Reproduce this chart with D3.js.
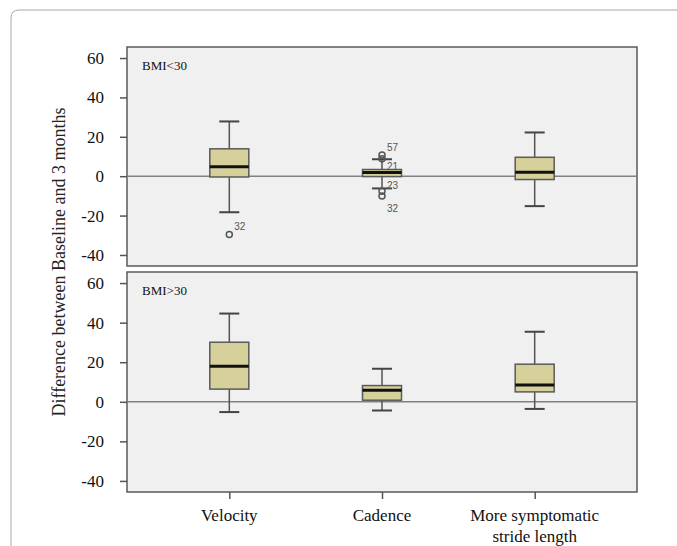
<!DOCTYPE html>
<html>
<head>
<meta charset="utf-8">
<script src="https://cdn.jsdelivr.net/npm/d3@7/dist/d3.min.js"></script>
<style>
    body { margin: 0; background: #fff; }
    svg { display: block; }
    .serif { font-family: "Liberation Serif", "Times New Roman", serif; }
</style>
</head>
<body>
<svg id="chart" width="677" height="546"></svg>
<script>
'use strict';
var categories = ['Velocity', 'Cadence', 'More symptomatic stride length'];
var panelNames = ['BMI<30', 'BMI>30'];
var yTicks = [-40, -20, 0, 20, 40, 60];
// [lower whisker, q1, median, q3, upper whisker]
var bmiUnder30 = [[-18.3, -0.4, 4.8, 13.9, 27.8], [-6.2, -0.2, 1.9, 3.4, 8.6], [-15.2, -1.7, 2.0, 9.6, 22.2]];
var bmiOver30 = [[-5.2, 6.4, 17.9, 30.1, 44.6], [-4.4, 0.8, 5.8, 8.2, 16.7], [-3.6, 5.0, 8.5, 19.0, 35.4]];
var outlierCats = ['Velocity', 'Cadence', 'Cadence', 'Cadence', 'Cadence'];
var outlierValues = [-29.6, 10.8, 8.8, -7.6, -10.1];
var outlierLabels = ['32', '57', '21', '23', '32'];
var outlierLabelDy = [-8, -8, 7, -6, 12];

var svg = d3.select('#chart');
var left = 127, right = 637;
var panels = [
    {name: panelNames[0], top: 47, bottom: 266, boxes: bmiUnder30, outliers: true},
    {name: panelNames[1], top: 272, bottom: 492, boxes: bmiOver30, outliers: false}
];

// outer frame
svg.append('path')
        .attr('d', 'M11,560 L11,18 Q11,10 19,10 L690,10')
        .attr('fill', 'none')
        .attr('stroke', '#a8a8a8')
        .attr('stroke-width', 1);

var x = d3.scalePoint().domain(categories).range([left, right]).padding(0.67);
var boxW = 39, capW = 20;

panels.forEach(function (p) {
    var y = d3.scaleLinear().domain([-45.6, 65.6]).range([p.bottom, p.top]);
    var g = svg.append('g');
    g.append('rect')
            .attr('x', left).attr('y', p.top)
            .attr('width', right - left).attr('height', p.bottom - p.top)
            .attr('fill', '#f0f0f0')
            .attr('stroke', '#5a5a5a')
            .attr('stroke-width', 1.5);

    var yAxis = d3.axisLeft(y).tickValues(yTicks).tickSize(7).tickPadding(16)
            .tickFormat(function (d) { return String(d); });
    var ax = g.append('g').attr('transform', 'translate(' + left + ',0)').call(yAxis);
    ax.attr('font-family', null).attr('font-size', null);
    ax.select('.domain').remove();
    ax.selectAll('line').attr('stroke', '#555').attr('stroke-width', 1.5);
    ax.selectAll('text')
            .attr('class', 'serif')
            .style('font-size', '17px').attr('fill', '#111');

    g.append('line')
            .attr('x1', left).attr('x2', right)
            .attr('y1', y(0)).attr('y2', y(0))
            .attr('stroke', '#808080').attr('stroke-width', 1.5);

    g.append('text')
            .attr('class', 'serif')
            .attr('x', 142).attr('y', p.top + 23)
            .style('font-size', '13px').attr('fill', '#111')
            .text(p.name);

    var box = g.selectAll('.box').data(p.boxes).enter().append('g').attr('class', 'box');
    box.append('line')
            .attr('x1', function (d, i) { return x(categories[i]); })
            .attr('x2', function (d, i) { return x(categories[i]); })
            .attr('y1', function (d) { return y(d[0]); })
            .attr('y2', function (d) { return y(d[4]); })
            .attr('stroke', '#555').attr('stroke-width', 1.5);
    [0, 4].forEach(function (k) {
        box.append('line')
                .attr('x1', function (d, i) { return x(categories[i]) - capW / 2; })
                .attr('x2', function (d, i) { return x(categories[i]) + capW / 2; })
                .attr('y1', function (d) { return y(d[k]); })
                .attr('y2', function (d) { return y(d[k]); })
                .attr('stroke', '#444').attr('stroke-width', 2);
    });
    box.append('rect')
            .attr('x', function (d, i) { return x(categories[i]) - boxW / 2; })
            .attr('y', function (d) { return y(d[3]); })
            .attr('width', boxW)
            .attr('height', function (d) { return y(d[1]) - y(d[3]); })
            .attr('fill', '#d6d19a')
            .attr('stroke', '#5a5a5a').attr('stroke-width', 1.5);
    box.append('line')
            .attr('x1', function (d, i) { return x(categories[i]) - boxW / 2; })
            .attr('x2', function (d, i) { return x(categories[i]) + boxW / 2; })
            .attr('y1', function (d) { return y(d[2]); })
            .attr('y2', function (d) { return y(d[2]); })
            .attr('stroke', '#111').attr('stroke-width', 3);

    if (p.outliers) {
        outlierValues.forEach(function (v, i) {
            var cx = x(outlierCats[i]);
            g.append('circle')
                    .attr('cx', cx).attr('cy', y(v)).attr('r', 3)
                    .attr('fill', 'none').attr('stroke', '#555').attr('stroke-width', 1.5);
            g.append('text')
                    .attr('x', cx + 5).attr('y', y(v) + outlierLabelDy[i] + 4)
                    .attr('font-family', '"Liberation Sans", Arial, sans-serif')
                    .attr('font-size', 10).attr('fill', '#555')
                    .text(outlierLabels[i]);
        });
    }
});

// x axis below the lower panel
var xb = panels[1].bottom;
var xAxis = svg.append('g').attr('transform', 'translate(0,' + xb + ')')
        .call(d3.axisBottom(x).tickSize(7).tickFormat(''));
xAxis.select('.domain').remove();
xAxis.selectAll('line').attr('stroke', '#555').attr('stroke-width', 1.5);

var xLabels = svg.append('g').selectAll('text').data(categories).enter().append('text')
        .attr('class', 'serif')
        .attr('x', function (d) { return x(d); })
        .attr('y', xb + 29)
        .attr('text-anchor', 'middle')
        .style('font-size', '17px').attr('fill', '#111');
xLabels.each(function (d) {
    var words = d === categories[2] ? ['More symptomatic', 'stride length'] : [d];
    var t = d3.select(this);
    words.forEach(function (w, i) {
        t.append('tspan').attr('x', x(d)).attr('dy', i ? 21 : 0).text(w);
    });
});

svg.append('text')
        .attr('class', 'serif')
        .attr('transform', 'translate(65,262) rotate(-90)')
        .attr('text-anchor', 'middle')
        .style('font-size', '18px').attr('fill', '#222')
        .text('Difference between Baseline and 3 months');
</script>
</body>
</html>
